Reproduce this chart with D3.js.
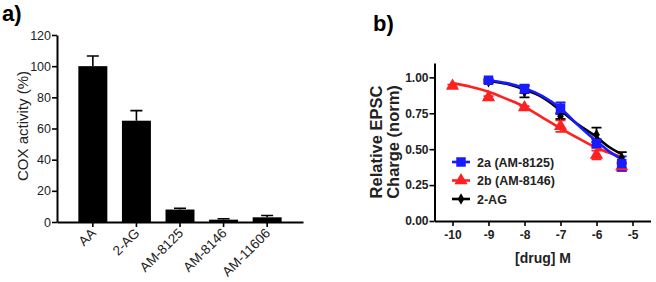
<!DOCTYPE html>
<html>
<head>
<meta charset="utf-8">
<script src="https://cdn.jsdelivr.net/npm/d3@7"></script>
<style>
body { margin: 0; background: #fff; }
svg { display: block; font-family: "Liberation Sans", Arial, sans-serif; }
</style>
</head>
<body>
<script>
"use strict";
// panel a: COX activity
const coxNames = ["AA", "2-AG", "AM-8125", "AM-8146", "AM-11606"];
const coxMean = [100, 65, 8, 1.5, 3];
const coxErr = [6.5, 6.5, 0.8, 0.6, 1.2];
const coxTicks = [0, 20, 40, 60, 80, 100, 120];

// panel b: EPSC dose response (log M)
const doseTicks = [-10, -9, -8, -7, -6, -5];
const epscTicks = [0, 0.25, 0.5, 0.75, 1.0];
const doseA = [-9, -8, -7, -6, -5.3];
const respA = [0.98, 0.92, 0.785, 0.54, 0.40];
const errA = [0.01, 0.03, 0.04, 0.03, 0.05];
const doseB = [-10, -9, -8, -7, -6, -5.3];
const respB = [0.94, 0.86, 0.79, 0.66, 0.46, 0.38];
const errB = [0.01, 0.01, 0.01, 0.04, 0.03, 0.03];
const doseAG = [-9, -8, -7, -6, -5.3];
const respAG = [0.97, 0.90, 0.73, 0.60, 0.44];
const errAG = [0.01, 0.04, 0.02, 0.05, 0.04];
// fitted curves
const fitDoseA = [-9, -8.5, -8, -7.5, -7, -6.5, -6, -5.65, -5.3];
const fitA = [0.98, 0.96, 0.925, 0.87, 0.785, 0.665, 0.555, 0.485, 0.43];
const fitDoseB = [-10, -9.5, -9, -8.5, -8, -7.5, -7, -6.5, -6, -5.65, -5.3];
const fitB = [0.96, 0.935, 0.90, 0.85, 0.795, 0.72, 0.645, 0.575, 0.51, 0.475, 0.445];
const fitDoseAG = [-9, -8.5, -8, -7.5, -7, -6.5, -6, -5.65, -5.3];
const fitAG = [0.975, 0.955, 0.915, 0.86, 0.77, 0.67, 0.585, 0.515, 0.465];

const svg = d3.select("body").append("svg").attr("width", 656).attr("height", 282);

function barChart() {
	const g = svg.append("g");
	const x = d3.scaleBand().domain(coxNames).range([57, 303]).paddingInner(0.335).paddingOuter(0.49);
	const y = d3.scaleLinear().domain([0, 120]).range([222, 35]);

	g.selectAll("path.err")
	.data(coxNames)
	.enter()
	.append("path")
	.attr("fill", "none")
	.attr("stroke", "#000")
	.attr("stroke-width", 1.6)
	.attr("d", (d, i) => {
		const cx = x(d) + x.bandwidth() / 2, top = y(coxMean[i] + coxErr[i]);
		return "M" + cx + "," + y(coxMean[i]) + "V" + top + "M" + (cx - 6) + "," + top + "H" + (cx + 6);
	});
	g.selectAll("rect")
	.data(coxNames)
	.enter()
	.append("rect")
	.attr("x", d => x(d))
	.attr("y", (d, i) => y(coxMean[i]))
	.attr("width", x.bandwidth())
	.attr("height", (d, i) => y(0) - y(coxMean[i]))
	.attr("fill", "#000");

	const yAxis = g.append("g").attr("transform", "translate(57,0)")
	.call(d3.axisLeft(y).tickValues(coxTicks).tickSize(5).tickSizeOuter(0));
	const xAxis = g.append("g").attr("transform", "translate(0,222)")
	.call(d3.axisBottom(x).tickSize(5).tickSizeOuter(0));
	[yAxis, xAxis].forEach(a => {
		a.select(".domain").attr("stroke-width", 2);
		a.selectAll(".tick line").attr("stroke-width", 1.6);
		a.selectAll("text").attr("font-size", 12.5).attr("font-family", "Liberation Sans, Arial, sans-serif").attr("fill", "#222");
	});
	yAxis.selectAll("text").attr("x", -6);
	xAxis.selectAll("text")
	.attr("font-size", 13.5)
	.attr("text-anchor", "end")
	.attr("dy", 0)
	.attr("transform", "translate(4,12) rotate(-45)")
	.attr("y", 0).attr("x", 0);

	g.append("text")
	.attr("transform", "translate(28,126) rotate(-90)")
	.attr("text-anchor", "middle")
	.attr("font-size", 15)
	.attr("fill", "#222")
	.text("COX activity (%)");

	svg.append("text").attr("x", 2).attr("y", 21).attr("font-size", 22).attr("font-weight", "bold").text("a)");
}

function doseChart() {
	const g = svg.append("g");
	const x = d3.scaleLinear().domain([-10.5, -4.5]).range([434.5, 650.5]);
	const y = d3.scaleLinear().domain([0, 1.1]).range([221, 63]);

	const series = [
		{name: "2a (AM-8125)", color: "#1a1aff", dose: doseA, resp: respA, err: errA, fd: fitDoseA, fit: fitA, sym: d3.symbolSquare, size: 90},
		{name: "2b (AM-8146)", color: "#ff2020", dose: doseB, resp: respB, err: errB, fd: fitDoseB, fit: fitB, sym: d3.symbolTriangle, size: 75},
		{name: "2-AG", color: "#000", dose: doseAG, resp: respAG, err: errAG, fd: fitDoseAG, fit: fitAG, sym: d3.symbolDiamond, size: 38},
	];
	const line = d3.line().curve(d3.curveMonotoneX);
	const order = [2, 1, 0];

	// error bars
	order.forEach(k => {
		const s = series[k];
		g.append("g").selectAll("path")
		.data(s.dose)
		.enter()
		.append("path")
		.attr("fill", "none")
		.attr("stroke", s.color)
		.attr("stroke-width", 1.8)
		.attr("d", (d, i) => {
			const cx = x(d), lo = y(s.resp[i] - s.err[i]), hi = y(s.resp[i] + s.err[i]);
			return "M" + cx + "," + lo + "V" + hi + "M" + (cx - 5) + "," + hi + "H" + (cx + 5) + "M" + (cx - 5) + "," + lo + "H" + (cx + 5);
		});
	});
	// fit curves
	order.forEach(k => {
		const s = series[k];
		g.append("path")
		.attr("fill", "none")
		.attr("stroke", s.color)
		.attr("stroke-width", 2.6)
		.attr("d", line(s.fd.map((d, i) => [x(d), y(s.fit[i])])));
	});
	// markers
	order.forEach(k => {
		const s = series[k];
		g.append("g").selectAll("path")
		.data(s.dose)
		.enter()
		.append("path")
		.attr("fill", s.color)
		.attr("transform", (d, i) => "translate(" + x(d) + "," + y(s.resp[i]) + ")")
		.attr("d", d3.symbol().type(s.sym).size(s.size));
	});

	const yAxis = g.append("g").attr("transform", "translate(434.5,0)")
	.call(d3.axisLeft(y).tickValues(epscTicks).tickFormat(d3.format(".2f")).tickSize(5).tickSizeOuter(0));
	const xAxis = g.append("g").attr("transform", "translate(0,221)")
	.call(d3.axisBottom(x).tickValues(doseTicks).tickFormat(d => d).tickSize(5).tickSizeOuter(0));
	[yAxis, xAxis].forEach(a => {
		a.select(".domain").attr("stroke-width", 2);
		a.selectAll(".tick line").attr("stroke-width", 1.6);
		a.selectAll("text").attr("font-size", 12).attr("font-weight", "bold").attr("font-family", "Liberation Sans, Arial, sans-serif").attr("fill", "#222");
	});
	yAxis.selectAll("text").attr("x", -6);
	xAxis.selectAll("text").attr("y", 9);

	const lab = g.append("text")
	.attr("transform", "translate(382,142) rotate(-90)")
	.attr("text-anchor", "middle")
	.attr("font-size", 16.5)
	.attr("font-weight", "bold")
	.attr("fill", "#222");
	lab.append("tspan").attr("x", 0).attr("y", 0).text("Relative EPSC");
	lab.append("tspan").attr("x", 0).attr("y", 17).text("Charge (norm)");

	g.append("text")
	.attr("x", 543).attr("y", 263)
	.attr("text-anchor", "middle")
	.attr("font-size", 14)
	.attr("font-weight", "bold")
	.attr("fill", "#222")
	.text("[drug] M");

	// legend
	const leg = g.append("g").selectAll("g")
	.data(series)
	.enter()
	.append("g")
	.attr("transform", (d, i) => "translate(452," + (162 + i * 18.5) + ")");
	leg.append("line").attr("x1", 0).attr("x2", 18).attr("stroke", d => d.color).attr("stroke-width", 2.6);
	leg.append("path").attr("transform", "translate(9,0)").attr("fill", d => d.color)
	.attr("d", d => d3.symbol().type(d.sym).size(d.size)());
	leg.append("text").attr("x", 25).attr("dy", "0.36em")
	.attr("font-size", 12.5).attr("font-weight", "bold").attr("fill", "#222")
	.text(d => d.name);

	svg.append("text").attr("x", 373).attr("y", 31).attr("font-size", 22).attr("font-weight", "bold").text("b)");
}

barChart();
doseChart();
</script>
</body>
</html>
